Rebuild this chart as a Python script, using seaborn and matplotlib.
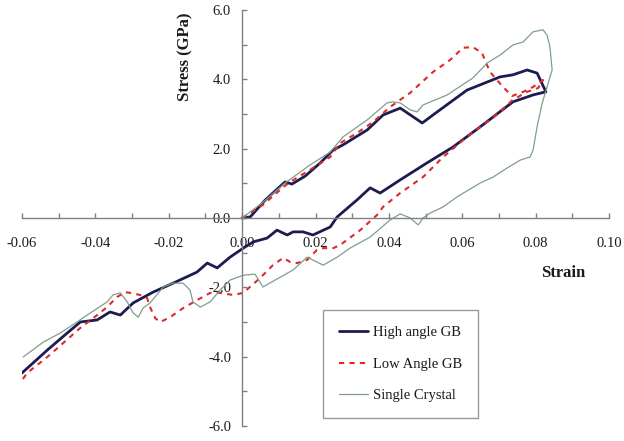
import numpy as np
import pandas as pd
import matplotlib
matplotlib.use("Agg")
import matplotlib.pyplot as plt
import seaborn as sns
from matplotlib.ticker import MultipleLocator, FormatStrFormatter

# ---- data (strain, stress GPa), traced in drawing order ----
high_x = [0.0, 0.0022, 0.0063, 0.0117, 0.0136, 0.0172, 0.0213, 0.0248, 0.0275, 0.0341,
          0.0384, 0.0431, 0.0491, 0.0520, 0.0613, 0.0703, 0.0738, 0.0777, 0.0804, 0.0828,
          0.0793, 0.0738, 0.0649, 0.0575, 0.0504, 0.0431, 0.0376, 0.0349, 0.0313, 0.0259,
          0.0240, 0.0193, 0.0166, 0.0139, 0.0123, 0.0095, 0.0068, 0.0030, 0.0003, -0.0033,
          -0.0068, -0.0095, -0.0123, -0.0188, -0.0243, -0.0297, -0.0332, -0.0360, -0.0395,
          -0.0441, -0.0477, -0.0531, -0.0600]
high_y = [0.0, 0.03, 0.52, 1.04, 0.98, 1.21, 1.59, 1.96, 2.11, 2.54,
          2.97, 3.17, 2.74, 2.97, 3.69, 4.07, 4.13, 4.27, 4.18, 3.64,
          3.55, 3.35, 2.63, 2.05, 1.59, 1.10, 0.72, 0.87, 0.52, 0.03,
          -0.26, -0.49, -0.40, -0.40, -0.49, -0.35, -0.58, -0.69, -0.87, -1.13,
          -1.44, -1.30, -1.56, -1.88, -2.14, -2.45, -2.80, -2.71, -2.94,
          -3.00, -3.32, -3.81, -4.47]

low_x = [0.0, 0.0057, 0.0112, 0.0131, 0.0185, 0.0240, 0.0267, 0.0313, 0.0357, 0.0403,
         0.0458, 0.0520, 0.0567, 0.0602, 0.0629, 0.0654, 0.0665, 0.0676, 0.0711, 0.0736,
         0.0766, 0.0793, 0.0812, 0.0820, 0.0807, 0.0777, 0.0738, 0.0684, 0.0649, 0.0613,
         0.0548, 0.0493, 0.0431, 0.0384, 0.0368, 0.0322, 0.0267, 0.0248, 0.0221, 0.0204,
         0.0177, 0.0150, 0.0131, 0.0112, 0.0084, 0.0049, 0.0003, -0.0025, -0.0060, -0.0087,
         -0.0123, -0.0161, -0.0196, -0.0223, -0.0237, -0.0251, -0.0259, -0.0278, -0.0305,
         -0.0319, -0.0341, -0.0368, -0.0406, -0.0441, -0.0488, -0.0531, -0.0586, -0.0600]
low_y = [0.0, 0.38, 0.89, 1.04, 1.39, 1.76, 2.16, 2.45, 2.77, 3.20,
         3.61, 4.21, 4.56, 4.91, 4.93, 4.76, 4.47, 4.21, 3.78, 3.52,
         3.64, 3.78, 3.92, 3.98, 3.75, 3.64, 3.41, 2.89, 2.63, 2.34,
         1.76, 1.18, 0.72, 0.32, 0.09, -0.35, -0.78, -0.87, -0.87, -0.92,
         -1.21, -1.30, -1.27, -1.15, -1.36, -1.73, -2.16, -2.22, -2.16, -2.16,
         -2.37, -2.60, -2.86, -3.00, -2.89, -2.57, -2.31, -2.22, -2.16,
         -2.14, -2.28, -2.57, -2.89, -3.17, -3.61, -4.01, -4.47, -4.68]

single_x = [0.0, 0.0054, 0.0117, 0.0185, 0.0240, 0.0275, 0.0341, 0.0395, 0.0411, 0.0431,
            0.0458, 0.0477, 0.0493, 0.0559, 0.0629, 0.0668, 0.0703, 0.0738, 0.0766, 0.0793,
            0.0820, 0.0831, 0.0839, 0.0845, 0.0831, 0.0818, 0.0804, 0.0793, 0.0785, 0.0758,
            0.0722, 0.0684, 0.0649, 0.0586, 0.0548, 0.0512, 0.0493, 0.0480, 0.0458, 0.0431,
            0.0403, 0.0349, 0.0294, 0.0259, 0.0221, 0.0177, 0.0139, 0.0090, 0.0057, 0.0035,
            0.0003, -0.0033, -0.0060, -0.0087, -0.0114, -0.0134, -0.0142, -0.0161, -0.0188,
            -0.0215, -0.0251, -0.0270, -0.0283, -0.0297, -0.0313, -0.0332, -0.0352, -0.0368,
            -0.0414, -0.0450, -0.0496, -0.0542, -0.0597]
single_y = [0.0, 0.43, 1.01, 1.53, 1.90, 2.34, 2.83, 3.32, 3.35, 3.32,
            3.12, 3.06, 3.26, 3.55, 4.04, 4.47, 4.70, 4.99, 5.08, 5.37,
            5.43, 5.28, 4.94, 4.27, 3.78, 3.32, 2.63, 1.96, 1.76, 1.67,
            1.44, 1.18, 1.01, 0.61, 0.32, 0.14, 0.00, -0.20, 0.00, 0.12,
            -0.06, -0.55, -0.87, -1.13, -1.36, -1.13, -1.50, -1.79, -1.99, -1.62,
            -1.65, -1.79, -2.08, -2.42, -2.57, -2.42, -2.08, -1.88, -1.88,
            -1.99, -2.45, -2.60, -2.86, -2.74, -2.42, -2.16, -2.22, -2.42,
            -2.74, -3.00, -3.32, -3.58, -4.01]

series_names = ["High angle GB", "Low Angle GB", "Single Crystal"]
x_tick_values = [-0.06, -0.04, -0.02, 0.00, 0.02, 0.04, 0.06, 0.08, 0.10]
y_tick_values = [-6.0, -4.0, -2.0, 0.0, 2.0, 4.0, 6.0]

frames = []
for name, xs, ys in zip(series_names, [high_x, low_x, single_x], [high_y, low_y, single_y]):
    frames.append(pd.DataFrame({"strain": xs, "stress": ys, "series": name,
                                "order": np.arange(len(xs))}))
df = pd.concat(frames, ignore_index=True)

sns.set_theme(style="white")
plt.rcParams["font.family"] = ["Liberation Serif", "DejaVu Serif"]
plt.rcParams["axes.unicode_minus"] = False

fig = plt.figure(figsize=(6.24, 4.41), dpi=100)
ax = fig.add_axes([22 / 624, 1 - 426 / 441, 587 / 624, 416 / 441])

styles = {
    "High angle GB": dict(color="#1c1c52", linewidth=2.0, linestyle="-"),
    "Low Angle GB": dict(color="#e02828", linewidth=1.5, linestyle=(0, (2.5, 2.5))),
    "Single Crystal": dict(color="#7f9e8c", linewidth=0.9, linestyle="-"),
}
for name in series_names:
    sub = df[df["series"] == name]
    sns.lineplot(data=sub, x="strain", y="stress", sort=False, estimator=None,
                 ax=ax, label=name, solid_joinstyle="round", dash_joinstyle="round",
                 **styles[name])

ax.set_xlim(-0.06, 0.10)
ax.set_ylim(-6.0, 6.0)
ax.spines["left"].set_position(("data", 0))
ax.spines["bottom"].set_position(("data", 0))
ax.spines["top"].set_visible(False)
ax.spines["right"].set_visible(False)
for s in ["left", "bottom"]:
    ax.spines[s].set_color("#808080")
    ax.spines[s].set_linewidth(1.0)

ax.set_xticks(x_tick_values)
ax.set_yticks(y_tick_values)
ax.xaxis.set_minor_locator(MultipleLocator(0.01))
ax.yaxis.set_minor_locator(MultipleLocator(1.0))
ax.xaxis.set_major_formatter(FormatStrFormatter("%.2f"))
ax.yaxis.set_major_formatter(FormatStrFormatter("%.1f"))
ax.tick_params(axis="both", which="both", direction="in", length=3.5, width=1.0,
               color="#808080", labelsize=10.5, labelcolor="#1a1a1a")
ax.tick_params(axis="x", which="major", pad=14)
ax.tick_params(axis="y", which="major", pad=8)
ax.tick_params(axis="x", which="both", bottom=True, top=False)
ax.tick_params(axis="y", which="both", left=True, right=False)

ax.set_xlabel("")
ax.set_ylabel("")
ax.text(185 / 624, 1 - 57 / 441, "Stress (GPa)", transform=fig.transFigure,
        rotation=90, ha="center", va="center", fontsize=12, fontweight="bold", color="#1a1a1a")
ax.text(563 / 624, 1 - 273 / 441, "Strain", transform=fig.transFigure,
        ha="center", va="center", fontsize=12, fontweight="bold", color="#1a1a1a")

leg = ax.legend(loc="upper left", bbox_to_anchor=(323 / 624, 1 - 310 / 441),
                bbox_transform=fig.transFigure, borderaxespad=0, fancybox=False,
                frameon=True, edgecolor="#808080", fontsize=10.5, handlelength=2.0,
                handletextpad=0.3, labelspacing=1.25, borderpad=1.1)
leg.get_frame().set_linewidth(1.0)
for t in leg.get_texts():
    t.set_color("#1a1a1a")

fig.savefig("out.png", dpi=100)
